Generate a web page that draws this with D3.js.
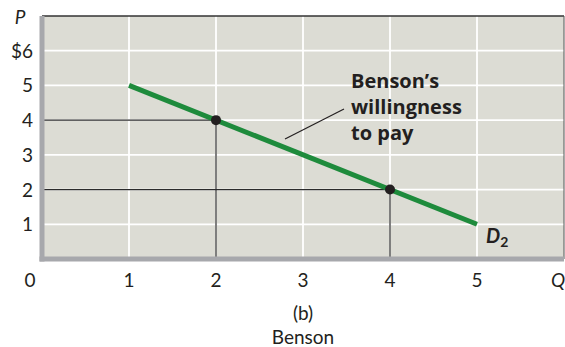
<!DOCTYPE html>
<html>
<head>
<meta charset="utf-8">
<script src="https://cdn.jsdelivr.net/npm/d3@7"></script>
<style>
  body { margin: 0; background: #fff; }
  svg text { font-family: "Lato", "Open Sans", sans-serif; fill: #231f20; }
  svg text.note { font-family: "Open Sans", "Lato", sans-serif; }
</style>
</head>
<body>
<svg id="chart" width="565" height="347"></svg>
<script>
  // demand curve D2 (Benson's willingness to pay)
  var demandQ = [1, 5];
  var demandP = [5, 1];
  // highlighted points
  var pointQ = [2, 4];
  var pointP = [4, 2];
  // ticks
  var xTicks = [0, 1, 2, 3, 4, 5];
  var yTicks = [1, 2, 3, 4, 5, 6];
  var yTickLabels = ["1", "2", "3", "4", "5", "$6"];
  var noteLines = ["Benson\u2019s", "willingness", "to pay"];

  var svg = d3.select("#chart");
  var x = d3.scaleLinear().domain([0, 6]).range([42, 564]);
  var y = d3.scaleLinear().domain([0, 7]).range([259, 16]);

  // plot background
  svg.append("rect")
    .attr("x", x(0)).attr("y", y(7))
    .attr("width", x(6) - x(0)).attr("height", y(0) - y(7))
    .attr("fill", "#dcdcd4");

  // white grid
  var grid = svg.append("g").attr("stroke", "#fff").attr("stroke-width", 1.8);
  grid.selectAll("line.v").data([1, 2, 3, 4, 5]).enter().append("line")
    .attr("x1", d => x(d)).attr("x2", d => x(d))
    .attr("y1", y(7)).attr("y2", y(0));
  grid.selectAll("line.h").data(yTicks).enter().append("line")
    .attr("x1", x(0)).attr("x2", x(6))
    .attr("y1", d => y(d)).attr("y2", d => y(d));

  // frame: dark top / right, thick gray left / bottom
  svg.append("line").attr("x1", x(0)).attr("x2", x(6)).attr("y1", y(7)).attr("y2", y(7))
    .attr("stroke", "#333").attr("stroke-width", 1.5);
  svg.append("line").attr("x1", x(6)).attr("x2", x(6)).attr("y1", y(7)).attr("y2", y(0))
    .attr("stroke", "#555").attr("stroke-width", 1);

  // reference lines to the points
  var refs = svg.append("g").attr("stroke", "#2b2b2b").attr("stroke-width", 1.2);
  pointQ.forEach(function(q, i) {
    refs.append("line").attr("x1", x(0)).attr("x2", x(q))
      .attr("y1", y(pointP[i])).attr("y2", y(pointP[i]));
    refs.append("line").attr("x1", x(q)).attr("x2", x(q))
      .attr("y1", y(pointP[i])).attr("y2", y(0));
  });

  svg.append("line").attr("x1", x(0)).attr("x2", x(0)).attr("y1", y(7)).attr("y2", y(0) + 2.5)
    .attr("stroke", "#a7a8ac").attr("stroke-width", 5);
  svg.append("line").attr("x1", x(0) - 2.5).attr("x2", x(6)).attr("y1", y(0)).attr("y2", y(0))
    .attr("stroke", "#a7a8ac").attr("stroke-width", 5);

  // demand line
  svg.append("path")
    .datum(demandQ.map((q, i) => [q, demandP[i]]))
    .attr("d", d3.line().x(d => x(d[0])).y(d => y(d[1])))
    .attr("stroke", "#1e8b3c").attr("stroke-width", 5).attr("fill", "none");

  svg.selectAll("circle.pt").data(pointQ).enter().append("circle")
    .attr("cx", d => x(d)).attr("cy", (d, i) => y(pointP[i])).attr("r", 5)
    .attr("fill", "#231f20");

  // tick labels
  svg.selectAll("text.yt").data(yTicks).enter().append("text")
    .attr("x", 33).attr("y", d => y(d) + 7)
    .attr("text-anchor", "end").attr("font-size", 19)
    .text((d, i) => yTickLabels[i]);
  svg.selectAll("text.xt").data(xTicks).enter().append("text")
    .attr("x", d => d === 0 ? 30 : x(d)).attr("y", 287)
    .attr("text-anchor", "middle").attr("font-size", 19)
    .text(d => d);

  svg.append("text").attr("x", 20).attr("y", 24).attr("text-anchor", "middle")
    .attr("font-size", 19).attr("font-style", "italic").text("P");
  svg.append("text").attr("x", 558).attr("y", 287).attr("text-anchor", "middle")
    .attr("font-size", 19).attr("font-style", "italic").text("Q");

  // annotation
  svg.append("line").attr("x1", 285).attr("y1", 139).attr("x2", 344).attr("y2", 109)
    .attr("stroke", "#231f20").attr("stroke-width", 1.2);
  svg.selectAll("text.note").data(noteLines).enter().append("text")
    .attr("class", "note")
    .attr("x", 351).attr("y", (d, i) => 88 + i * 26)
    .attr("font-size", 20).attr("font-weight", "bold").text(d => d);

  var dl = svg.append("text").attr("x", 486).attr("y", 243)
    .attr("font-size", 20).attr("font-weight", "bold").attr("font-style", "italic");
  dl.append("tspan").text("D");
  dl.append("tspan").attr("dy", 4).attr("font-size", 14).attr("font-style", "normal").text("2");

  // captions
  svg.append("text").attr("x", x(3)).attr("y", 320).attr("text-anchor", "middle")
    .attr("font-size", 19).text("(b)");
  svg.append("text").attr("x", x(3)).attr("y", 344).attr("text-anchor", "middle")
    .attr("font-size", 19).text("Benson");
</script>
</body>
</html>
